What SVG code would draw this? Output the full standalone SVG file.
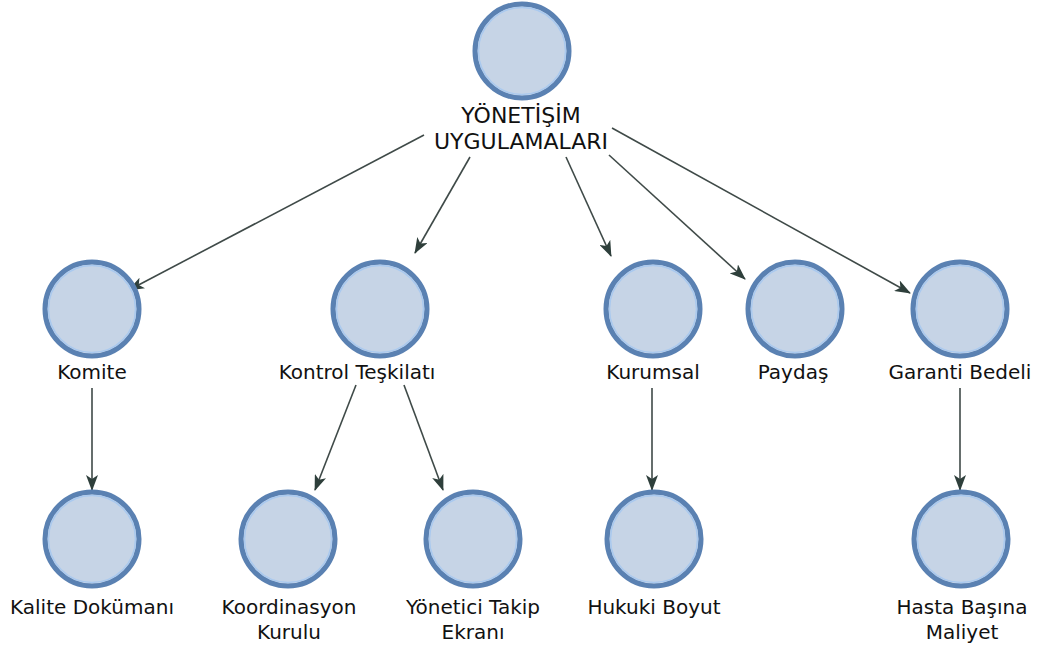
<svg xmlns="http://www.w3.org/2000/svg" width="1041" height="648" viewBox="0 0 1041 648">
<style>
.node circle.o{fill:#c6d4e6;stroke:#5a81b2;stroke-width:5}
.node circle.i{fill:none;stroke:#a9c9ef;stroke-width:1.5}
.node text{font-family:"DejaVu Sans",sans-serif;font-size:20px;fill:#111111;text-anchor:middle}
.node text.big{font-size:22px}
.edges line{stroke:#3f4a48;stroke-width:1.6;marker-end:url(#ah)}
</style>
<defs>
<marker id="ah" viewBox="0 0 16 12" refX="15" refY="6" markerWidth="16" markerHeight="12" markerUnits="userSpaceOnUse" orient="auto">
<path d="M0,0 L16,6 L0,12 L4,6 z" fill="#2e3f3b"/>
</marker>
</defs>
<rect width="1041" height="648" fill="#ffffff"/>
<g class="edges">
<line x1="424" y1="135" x2="129" y2="290"/>
<line x1="470" y1="157" x2="415" y2="253"/>
<line x1="566" y1="157" x2="611" y2="256"/>
<line x1="609" y1="155" x2="745" y2="279"/>
<line x1="612" y1="128" x2="910" y2="293"/>
<line x1="92" y1="388" x2="92" y2="490"/>
<line x1="356" y1="385" x2="315" y2="490"/>
<line x1="404" y1="385" x2="443" y2="490"/>
<line x1="652" y1="388" x2="652" y2="490"/>
<line x1="960" y1="388" x2="960" y2="490"/>
</g>
<g id="n-top" class="node"><circle class="o" cx="522" cy="51" r="47"/><circle class="i" cx="522" cy="51" r="43.5"/><text class="big" x="521" y="123">YÖNETİŞİM</text><text class="big" x="521" y="149">UYGULAMALARI</text></g>
<g id="n-komite" class="node"><circle class="o" cx="92" cy="309" r="47"/><circle class="i" cx="92" cy="309" r="43.5"/><text x="92" y="379">Komite</text></g>
<g id="n-kontrol" class="node"><circle class="o" cx="380" cy="309" r="47"/><circle class="i" cx="380" cy="309" r="43.5"/><text x="357" y="379">Kontrol Teşkilatı</text></g>
<g id="n-kurumsal" class="node"><circle class="o" cx="653" cy="309" r="47"/><circle class="i" cx="653" cy="309" r="43.5"/><text x="653" y="379">Kurumsal</text></g>
<g id="n-paydas" class="node"><circle class="o" cx="795" cy="309" r="47"/><circle class="i" cx="795" cy="309" r="43.5"/><text x="793" y="379">Paydaş</text></g>
<g id="n-garanti" class="node"><circle class="o" cx="960" cy="309" r="47"/><circle class="i" cx="960" cy="309" r="43.5"/><text x="960" y="379">Garanti Bedeli</text></g>
<g id="n-kalite" class="node"><circle class="o" cx="92" cy="539" r="47"/><circle class="i" cx="92" cy="539" r="43.5"/><text x="92" y="614">Kalite Dokümanı</text></g>
<g id="n-koordinasyon" class="node"><circle class="o" cx="288" cy="539" r="47"/><circle class="i" cx="288" cy="539" r="43.5"/><text x="289" y="614">Koordinasyon</text><text x="289" y="639">Kurulu</text></g>
<g id="n-yonetici" class="node"><circle class="o" cx="473" cy="539" r="47"/><circle class="i" cx="473" cy="539" r="43.5"/><text x="473" y="614">Yönetici Takip</text><text x="473" y="639">Ekranı</text></g>
<g id="n-hukuki" class="node"><circle class="o" cx="654" cy="539" r="47"/><circle class="i" cx="654" cy="539" r="43.5"/><text x="654" y="614">Hukuki Boyut</text></g>
<g id="n-hasta" class="node"><circle class="o" cx="961" cy="539" r="47"/><circle class="i" cx="961" cy="539" r="43.5"/><text x="962" y="614">Hasta Başına</text><text x="962" y="639">Maliyet</text></g>
</svg>
